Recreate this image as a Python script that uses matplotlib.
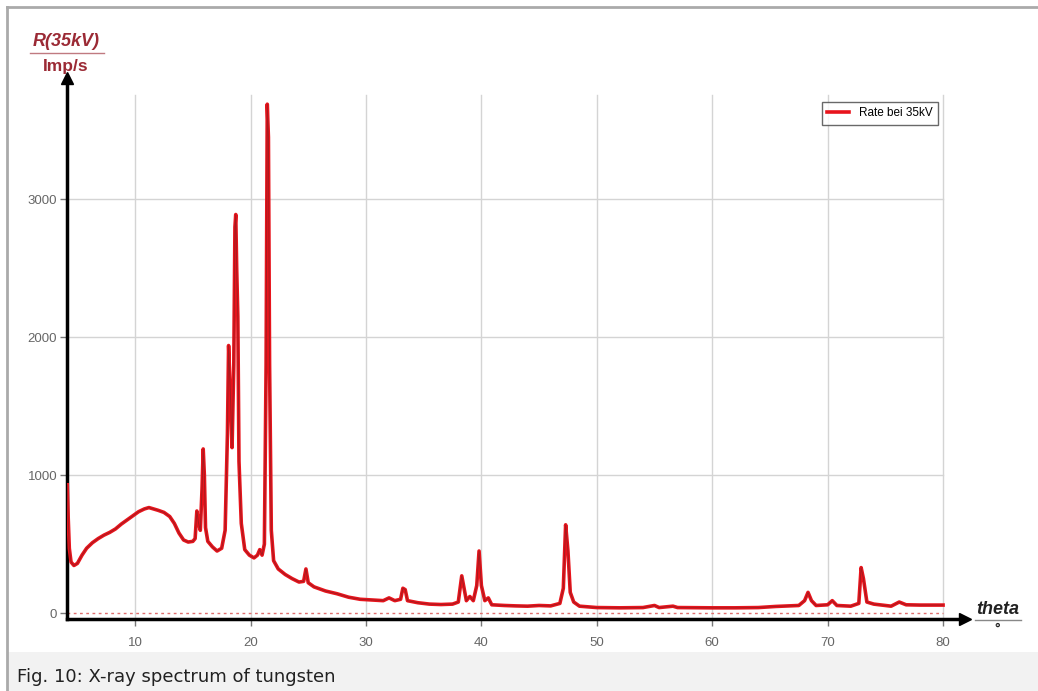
import matplotlib.pyplot as plt
from matplotlib.patches import Rectangle
from matplotlib.lines import Line2D

# spectrum (theta in degrees, rate in Imp/s)
theta = [4.12, 4.2, 4.3, 4.45, 4.7, 5.0, 5.4, 5.8, 6.3, 6.8, 7.3, 7.8, 8.3, 8.8,
         9.3, 9.8, 10.3, 10.8, 11.2, 11.6, 12.0, 12.5, 13.0, 13.4, 13.8, 14.2,
         14.6, 15.0, 15.2, 15.35, 15.5, 15.65, 15.8, 15.9, 16.0, 16.1, 16.3,
         16.7, 17.1, 17.5, 17.8, 18.0, 18.1, 18.25, 18.4, 18.55, 18.65, 18.72,
         18.8, 18.9, 19.0, 19.2, 19.5, 19.9, 20.3, 20.6, 20.8, 21.0, 21.2,
         21.35, 21.45, 21.55, 21.65, 21.8, 22.0, 22.4, 23.0, 23.6, 24.2, 24.6,
         24.8, 25.0, 25.5, 26.5, 27.5, 28.5, 29.5, 30.5, 31.5, 32.0, 32.5,
         33.0, 33.2, 33.4, 33.6, 34.5, 35.5, 36.5, 37.5, 38.0, 38.3, 38.5,
         38.7, 39.0, 39.3, 39.6, 39.8, 40.0, 40.3, 40.6, 40.9, 42.0, 43.0,
         44.0, 45.0, 46.0, 46.8, 47.1, 47.3, 47.5, 47.7, 48.0, 48.5, 50.0,
         52.0, 54.0, 55.0, 55.4, 56.6, 57.0, 60.0, 62.0, 64.0, 65.5, 67.5,
         68.0, 68.3, 68.6, 69.0, 70.0, 70.4, 70.8, 72.0, 72.7, 72.9, 73.1,
         73.4, 74.0, 75.5, 76.2, 76.8, 78.0, 80.0]
rate = [930, 700, 470, 370, 345, 360, 420, 470, 510, 540, 565, 585, 610, 645,
        675, 705, 735, 755, 765, 755, 745, 730, 700, 650, 580, 530,
        515, 520, 540, 740, 650, 600, 900, 1190, 1000, 620, 520,
        480, 450, 470, 600, 1300, 1940, 1600, 1200, 1800, 2800, 2890,
        2500, 2150, 1100, 650, 460, 420, 400, 420, 460, 420, 500,
        1800, 3690, 3450, 1800, 600, 380, 320, 280, 250, 225, 230,
        320, 220, 190, 160, 140, 115, 100, 95, 90, 110, 90,
        100, 180, 170, 90, 75, 65, 62, 65, 80, 270, 180,
        90, 120, 90, 200, 450, 200, 90, 110, 60, 55, 52,
        50, 55, 52, 70, 180, 640, 450, 150, 80, 50, 40,
        38, 40, 55, 40, 50, 40, 38, 38, 40, 48, 55,
        90, 150, 90, 55, 60, 90, 55, 50, 70, 330, 250,
        80, 65, 50, 80, 60, 58, 58]

x_ticks = [10, 20, 30, 40, 50, 60, 70, 80]
y_ticks = [0, 1000, 2000, 3000]

fig = plt.figure(figsize=(10.38, 6.91), dpi=100)
W, H = 1038, 691

# frame and caption strip
fig.add_artist(Line2D([7 / W, 1], [1 - 7 / H, 1 - 7 / H], color='#aaaaaa', lw=2))
fig.add_artist(Line2D([7 / W, 7 / W], [0, 1 - 7 / H], color='#aaaaaa', lw=2))
fig.add_artist(Rectangle((8 / W, 0), 1, 39 / H, color='#f2f2f2', lw=0))
fig.text(17 / W, 9 / H, 'Fig. 10: X-ray spectrum of tungsten', fontsize=13,
         color='#222222', va='baseline')

ax = fig.add_axes([67 / W, 72 / H, 898 / W, 541 / H])
ax.set_xlim(4.1, 81.9)
ax.set_ylim(-43, 3880)

for xv in x_ticks:
    ax.plot([xv, xv], [-43, 3756], color='#d4d4d4', lw=1, zorder=1)
for yv in y_ticks[1:]:
    ax.plot([4.1, 80], [yv, yv], color='#d4d4d4', lw=1, zorder=1)
ax.plot([4.1, 80], [0, 0], color='#e07070', lw=1, ls=(0, (2, 2.5)), zorder=2)

ax.plot(theta, rate, color='#e8141c', lw=2.6, zorder=3, label='Rate bei 35kV')
ax.plot(theta, rate, color='#7a1f22', lw=0.7, alpha=0.6, zorder=4)

for s in ['top', 'right']:
    ax.spines[s].set_visible(False)
for s in ['left', 'bottom']:
    ax.spines[s].set_linewidth(2.5)
    ax.spines[s].set_color('black')
ax.plot([1], [0], marker='>', color='black', ms=9, transform=ax.transAxes, clip_on=False)
ax.plot([0], [1], marker='^', color='black', ms=9, transform=ax.transAxes, clip_on=False)

ax.set_xticks(x_ticks)
ax.set_yticks(y_ticks)
ax.tick_params(axis='both', colors='#777777', labelcolor='#666666', length=5, width=1,
               labelsize=9.5)
ax.tick_params(axis='x', pad=8)
ax.tick_params(axis='y', pad=2)
for lab in ax.get_xticklabels() + ax.get_yticklabels():
    lab.set_family('Liberation Sans')

leg = ax.legend(loc='upper right', bbox_to_anchor=(938 / W, 1 - 102 / H),
                bbox_transform=fig.transFigure, frameon=True,
                fancybox=False, handlelength=1.9, borderpad=0.45, borderaxespad=0,
                prop={'family': 'Liberation Sans', 'size': 8.5})
leg.get_frame().set_edgecolor('#444444')
leg.get_frame().set_linewidth(1)

# axis titles
fig.text(66 / W, 1 - 42 / H, 'R(35kV)', fontsize=13, style='italic', weight='bold',
         color='#9b2a35', ha='center', va='center', family='Liberation Sans')
fig.add_artist(Line2D([30 / W, 104 / W], [1 - 53 / H, 1 - 53 / H], color='#c07a80', lw=1))
fig.text(66 / W, 1 - 66 / H, 'Imp/s', fontsize=12.5, weight='bold', color='#9b2a35',
         ha='center', va='center', family='Liberation Sans')
fig.text(998 / W, 1 - 609 / H, 'theta', fontsize=13, weight='bold', style='italic',
         color='#222222', ha='center', va='center', family='Liberation Sans')
fig.add_artist(Line2D([975 / W, 1021 / W], [1 - 620 / H, 1 - 620 / H], color='#888888', lw=1))
fig.text(997 / W, 1 - 629 / H, '°', fontsize=10, weight='bold', color='#222222',
         ha='center', va='center', family='Liberation Sans')

fig.savefig('out.png', dpi=100)
